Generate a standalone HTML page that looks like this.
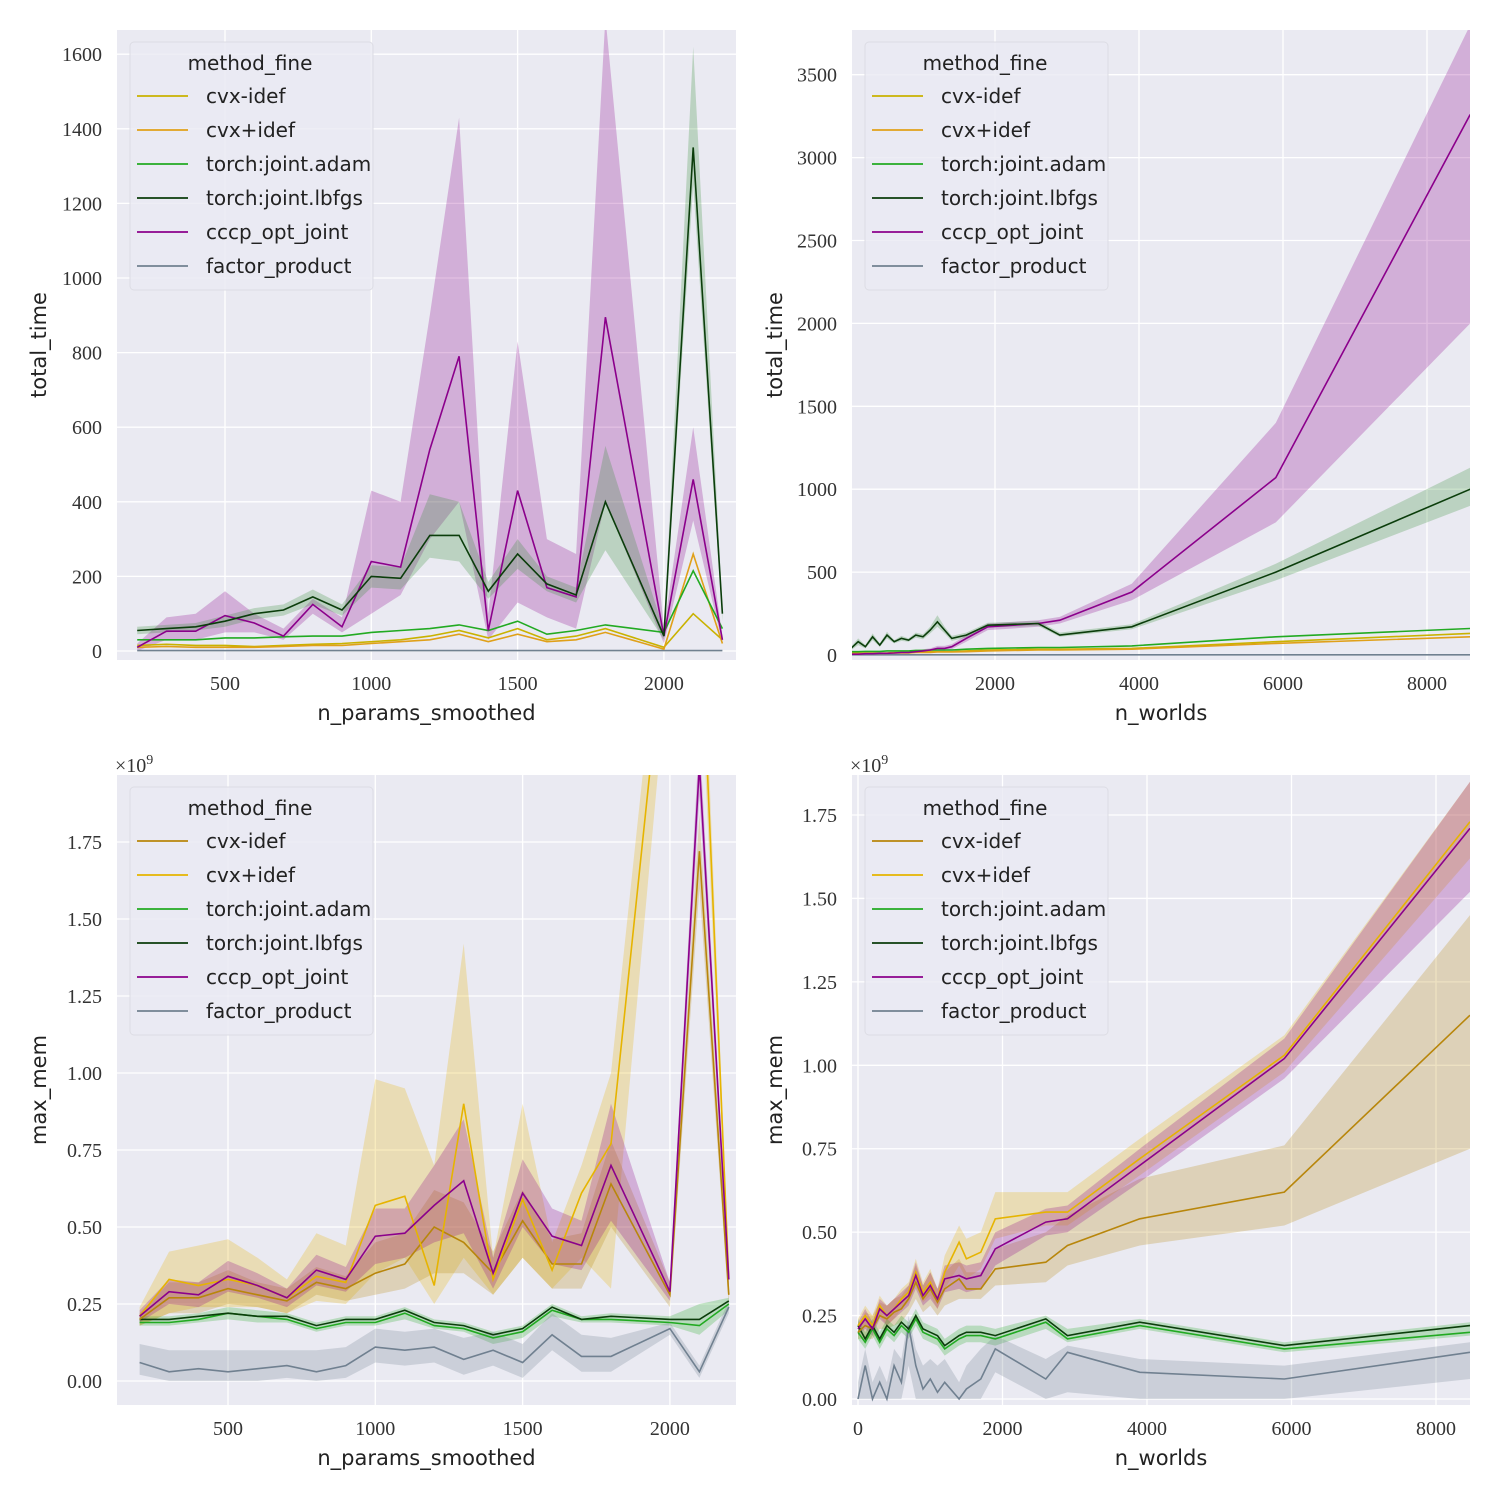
<!DOCTYPE html>
<html><head><meta charset="utf-8">
<style>
body{margin:0;background:#fff;}
svg{display:block;}
.tick{font-family:"Liberation Serif",serif;font-size:20px;fill:#333;}
.lab{font-family:"DejaVu Sans","Liberation Sans",sans-serif;font-size:21px;fill:#222;}
.leg{font-family:"DejaVu Sans","Liberation Sans",sans-serif;font-size:20px;fill:#222;}
</style></head><body>
<svg id="fig" width="1500" height="1500" viewBox="0 0 1500 1500"></svg>
<script>
// ---------- Data ----------
const seriesNames = ["cvx-idef","cvx+idef","torch:joint.adam","torch:joint.lbfgs","cccp_opt_joint","factor_product"];
// Panel A: total_time vs n_params_smoothed
const xA = [200,300,400,500,600,700,800,900,1000,1100,1200,1300,1400,1500,1600,1700,1800,2000,2100,2200];
const A_cvxm = [15,18,15,15,12,15,18,20,25,30,40,55,35,60,30,40,60,10,100,30];
const A_cvxp = [10,12,10,10,10,12,15,15,20,25,30,45,25,45,25,30,50,5,260,20];
const A_adam = [30,30,30,35,35,38,40,40,50,55,60,70,55,80,45,55,70,50,215,60];
const A_lbfgs = [55,60,65,80,100,110,145,110,200,195,310,310,160,260,180,150,400,40,1350,100];
const A_lbfgs_lo = [45,50,55,65,85,95,125,95,170,165,250,240,140,220,160,130,270,30,1250,80];
const A_lbfgs_hi = [65,70,75,95,115,125,165,125,230,225,420,400,185,300,200,170,550,55,1620,120];
const A_cccp = [10,53,53,95,75,40,125,65,240,225,540,790,55,430,170,145,895,40,460,30];
const A_cccp_lo = [0,30,30,50,50,30,100,50,100,150,300,400,30,130,90,60,400,20,350,20];
const A_cccp_hi = [20,90,100,160,100,60,140,90,430,400,900,1430,100,830,300,260,1700,60,600,40];
const A_fact = [1,1,1,1,1,1,1,1,1,1,1,1,1,1,1,1,1,1,1,1];
const A_yticks = [0,200,400,600,800,1000,1200,1400,1600];
const A_xticks = [500,1000,1500,2000];
// Panel B: total_time vs n_worlds
const xB = [0,100,200,300,400,500,600,700,800,900,1000,1100,1200,1300,1400,1600,1900,2600,2900,3900,5900,8600];
const B_cvxm = [10,10,12,12,12,12,15,15,15,18,18,20,20,20,20,25,30,35,35,40,80,130];
const B_cvxp = [8,8,10,10,10,10,12,12,12,15,15,15,18,18,18,20,25,30,30,35,70,110];
const B_adam = [20,20,22,22,22,25,25,25,25,28,28,30,30,30,30,35,40,45,45,55,110,160];
const B_lbfgs = [40,80,50,110,60,120,80,100,90,120,110,150,200,150,100,120,180,190,120,170,500,1000];
const B_lbfgs_lo = [30,60,40,90,50,100,70,85,80,105,95,130,170,130,85,105,165,175,110,155,450,900];
const B_lbfgs_hi = [50,100,60,130,70,140,90,115,100,135,125,170,240,170,115,135,195,205,135,185,550,1130];
const B_cccp = [5,5,8,8,10,10,12,15,15,20,25,30,40,40,50,100,170,190,210,380,1070,3260];
const B_cccp_lo = [2,2,4,4,5,5,6,8,8,12,15,20,25,25,35,80,150,170,190,330,800,2000];
const B_cccp_hi = [8,8,12,12,15,15,18,22,22,28,35,40,55,55,65,120,190,210,230,430,1400,3800];
const B_fact = [1,1,1,1,1,1,1,1,1,1,1,1,1,1,1,1,1,1,1,1,1,1];
const B_yticks = [0,500,1000,1500,2000,2500,3000,3500];
const B_xticks = [2000,4000,6000,8000];
// Panel C: max_mem vs n_params_smoothed (x1e9)
const xC = [200,300,400,500,600,700,800,900,1000,1100,1200,1300,1400,1500,1600,1700,1800,2000,2100,2200];
const C_cvxm = [0.20,0.27,0.27,0.30,0.28,0.26,0.32,0.30,0.35,0.38,0.50,0.45,0.35,0.52,0.38,0.38,0.64,0.28,1.72,0.28];
const C_cvxm_lo = [0.18,0.22,0.22,0.25,0.24,0.22,0.28,0.26,0.28,0.30,0.35,0.35,0.28,0.40,0.30,0.30,0.50,0.24,1.60,0.24];
const C_cvxm_hi = [0.22,0.32,0.32,0.36,0.32,0.30,0.37,0.34,0.45,0.48,0.62,0.58,0.42,0.62,0.46,0.48,0.78,0.32,1.84,0.32];
const C_cvxp = [0.21,0.33,0.31,0.33,0.31,0.27,0.34,0.32,0.57,0.60,0.31,0.90,0.33,0.59,0.36,0.61,0.77,2.6,2.6,0.33];
const C_cvxp_lo = [0.18,0.22,0.24,0.24,0.24,0.22,0.26,0.25,0.35,0.40,0.25,0.40,0.28,0.40,0.30,0.40,0.30,2.4,2.4,0.30];
const C_cvxp_hi = [0.24,0.42,0.44,0.46,0.40,0.33,0.48,0.44,0.98,0.95,0.70,1.42,0.40,0.90,0.45,0.70,1.0,2.8,2.8,0.36];
const C_adam = [0.19,0.19,0.20,0.22,0.21,0.20,0.17,0.19,0.19,0.22,0.18,0.17,0.14,0.16,0.23,0.20,0.20,0.19,0.18,0.25];
const C_lbfgs = [0.20,0.20,0.21,0.22,0.21,0.21,0.18,0.20,0.20,0.23,0.19,0.18,0.15,0.17,0.24,0.20,0.21,0.20,0.20,0.26];
const C_green_lo = [0.18,0.18,0.19,0.20,0.19,0.19,0.16,0.18,0.18,0.20,0.17,0.16,0.12,0.14,0.21,0.19,0.19,0.18,0.15,0.23];
const C_green_hi = [0.21,0.21,0.22,0.24,0.23,0.22,0.19,0.21,0.21,0.24,0.20,0.19,0.16,0.18,0.25,0.21,0.22,0.21,0.25,0.27];
const C_cccp = [0.21,0.29,0.28,0.34,0.31,0.27,0.36,0.33,0.47,0.48,0.57,0.65,0.35,0.61,0.47,0.44,0.70,0.29,2.0,0.33];
const C_cccp_lo = [0.19,0.25,0.24,0.29,0.27,0.24,0.31,0.29,0.38,0.40,0.45,0.48,0.30,0.50,0.38,0.36,0.52,0.26,1.9,0.30];
const C_cccp_hi = [0.23,0.33,0.32,0.39,0.35,0.30,0.41,0.37,0.56,0.56,0.70,0.85,0.40,0.72,0.56,0.52,0.90,0.32,2.1,0.36];
const C_fact = [0.06,0.03,0.04,0.03,0.04,0.05,0.03,0.05,0.11,0.10,0.11,0.07,0.10,0.06,0.15,0.08,0.08,0.17,0.03,0.24];
const C_fact_lo = [0.02,0.0,0.0,0.0,0.0,0.01,0.0,0.01,0.06,0.05,0.06,0.02,0.05,0.01,0.10,0.03,0.03,0.15,0.01,0.22];
const C_fact_hi = [0.12,0.10,0.10,0.10,0.10,0.10,0.10,0.11,0.17,0.16,0.17,0.14,0.16,0.12,0.22,0.15,0.14,0.19,0.05,0.26];
const C_yticks = [0,0.25,0.5,0.75,1.0,1.25,1.5,1.75];
const C_xticks = [500,1000,1500,2000];
// Panel D: max_mem vs n_worlds (x1e9)
const xD = [0,100,200,300,400,500,600,700,800,900,1000,1100,1200,1400,1500,1700,1900,2600,2900,3900,5900,8471];
const D_cvxm = [0.20,0.22,0.21,0.25,0.24,0.26,0.27,0.30,0.35,0.30,0.33,0.29,0.33,0.36,0.33,0.33,0.39,0.41,0.46,0.54,0.62,1.15];
const D_cvxm_lo = [0.18,0.18,0.18,0.21,0.21,0.22,0.23,0.26,0.30,0.26,0.28,0.25,0.28,0.30,0.30,0.30,0.34,0.35,0.40,0.46,0.52,0.75];
const D_cvxm_hi = [0.22,0.26,0.25,0.29,0.28,0.30,0.31,0.34,0.40,0.34,0.38,0.33,0.38,0.42,0.38,0.38,0.45,0.50,0.55,0.66,0.76,1.45];
const D_cvxp = [0.22,0.25,0.22,0.28,0.25,0.27,0.30,0.32,0.38,0.32,0.35,0.30,0.38,0.47,0.42,0.44,0.54,0.56,0.56,0.72,1.03,1.73];
const D_cvxp_lo = [0.20,0.22,0.20,0.25,0.22,0.24,0.27,0.29,0.34,0.29,0.31,0.27,0.33,0.40,0.36,0.39,0.48,0.52,0.52,0.67,0.98,1.62];
const D_cvxp_hi = [0.24,0.28,0.25,0.31,0.28,0.30,0.33,0.35,0.42,0.35,0.39,0.33,0.43,0.52,0.48,0.50,0.62,0.62,0.62,0.78,1.09,1.85];
const D_adam = [0.20,0.17,0.21,0.17,0.21,0.19,0.22,0.20,0.24,0.20,0.19,0.18,0.15,0.18,0.19,0.19,0.18,0.23,0.18,0.22,0.15,0.20];
const D_lbfgs = [0.22,0.18,0.22,0.18,0.22,0.20,0.23,0.21,0.25,0.21,0.20,0.19,0.16,0.19,0.20,0.20,0.19,0.24,0.19,0.23,0.16,0.22];
const D_green_lo = [0.18,0.15,0.19,0.15,0.19,0.17,0.20,0.18,0.22,0.18,0.17,0.16,0.13,0.16,0.17,0.17,0.16,0.21,0.17,0.21,0.14,0.19];
const D_green_hi = [0.24,0.20,0.24,0.20,0.24,0.22,0.25,0.23,0.27,0.23,0.22,0.21,0.18,0.21,0.22,0.22,0.21,0.25,0.21,0.24,0.17,0.23];
const D_cccp = [0.21,0.24,0.21,0.27,0.25,0.27,0.29,0.31,0.37,0.31,0.34,0.30,0.36,0.37,0.36,0.37,0.45,0.53,0.54,0.70,1.02,1.71];
const D_cccp_lo = [0.19,0.21,0.19,0.24,0.22,0.24,0.26,0.28,0.33,0.28,0.30,0.27,0.32,0.33,0.32,0.33,0.40,0.49,0.50,0.65,0.96,1.52];
const D_cccp_hi = [0.23,0.27,0.23,0.30,0.28,0.30,0.32,0.34,0.41,0.34,0.38,0.33,0.40,0.41,0.40,0.41,0.50,0.57,0.58,0.75,1.08,1.85];
const D_fact = [0.0,0.10,0.0,0.05,0.0,0.10,0.05,0.22,0.10,0.03,0.06,0.02,0.05,0.0,0.03,0.06,0.15,0.06,0.14,0.08,0.06,0.14];
const D_fact_lo = [0.0,0.0,0.0,0.0,0.0,0.0,0.0,0.10,0.0,0.0,0.0,0.0,0.0,0.0,0.0,0.0,0.08,0.0,0.02,0.0,0.0,0.06];
const D_fact_hi = [0.05,0.15,0.05,0.10,0.05,0.15,0.12,0.25,0.15,0.10,0.12,0.10,0.12,0.05,0.10,0.15,0.19,0.12,0.16,0.12,0.10,0.17];
const D_yticks = [0,0.25,0.5,0.75,1.0,1.25,1.5,1.75];
const D_xticks = [0,2000,4000,6000,8000];

// ---------- Drawing ----------
const NS="http://www.w3.org/2000/svg";
const fig=document.getElementById('fig');
function mk(tag,attrs,parent){const e=document.createElementNS(NS,tag);for(const k in attrs)e.setAttribute(k,attrs[k]);(parent||fig).appendChild(e);return e;}

function panel(cfg){
  const g=mk('g',{});
  
  
  const {L,T,R,B}=cfg;
  const sx=v=>cfg.px0+(v-cfg.x0)*cfg.pxPerX;
  const sy=v=>cfg.py0-(v-cfg.y0)*cfg.pyPerY;
  const clipId='clip'+cfg.name;
  const defs=mk('defs',{},g);const cp=mk('clipPath',{id:clipId},defs);mk('rect',{x:L,y:T,width:R-L,height:B-T},cp);
  const bg=mk('rect',{x:L,y:T,width:R-L,height:B-T,fill:'#eaeaf2'},g);
  
  
  cfg.xticks.forEach(t=>{const x=sx(t);mk('line',{x1:x,x2:x,y1:T,y2:B,stroke:'#fff','stroke-width':1.3},g);
    const tx=mk('text',{x:x,y:B+30,'text-anchor':'middle',class:'tick'},g);tx.textContent=t;
    
    });
  cfg.yticks.forEach(t=>{const y=sy(t);mk('line',{x1:L,x2:R,y1:y,y2:y,stroke:'#fff','stroke-width':1.3},g);
    const tx=mk('text',{x:L-15,y:y+7,'text-anchor':'end',class:'tick'},g);tx.textContent=cfg.fmt(t);
    
    });
  const pg=mk('g',{'clip-path':'url(#'+clipId+')'},g);
  cfg.bands.forEach(b=>{
    let d='';b.lo.forEach((v,i)=>{d+=(i?'L':'M')+sx(cfg.xs[i]).toFixed(1)+','+sy(v).toFixed(1);});
    for(let i=b.hi.length-1;i>=0;i--)d+='L'+sx(cfg.xs[i]).toFixed(1)+','+sy(b.hi[i]).toFixed(1);
    const p=mk('path',{d:d+'Z',fill:b.color,'fill-opacity':0.25,stroke:'none'},pg);
    
    
  });
  cfg.series.forEach(s=>{
    const pts=s.v.map((v,i)=>sx(cfg.xs[i]).toFixed(1)+','+sy(v).toFixed(1)).join(' ');
    const pl=mk('polyline',{points:pts,fill:'none',stroke:s.color,'stroke-width':1.6},pg);
    
    
  });
  const xl=mk('text',{x:(L+R)/2,y:B+60,'text-anchor':'middle',class:'lab'},g);xl.textContent=cfg.xlabel;
  
  
  const yl=mk('text',{x:0,y:0,'text-anchor':'middle',class:'lab',transform:`translate(${cfg.ylx},${(T+B)/2}) rotate(-90)`},g);yl.textContent=cfg.ylabel;
  
  
  if(cfg.sci){const t=mk('text',{x:L-2,y:T-3,class:'tick','text-anchor':'start'},g);
    
    
    t.innerHTML='×10<tspan dy="-8" font-size="14">9</tspan>';}
  // legend
  const lg=mk('g',{},g);
  
  
  mk('rect',{x:L+13,y:T+12,width:243,height:248,rx:4,fill:'#eaeaf2','fill-opacity':0.8,stroke:'#dcdce4'},lg);
  const lt=mk('text',{x:L+133,y:T+40,'text-anchor':'middle',class:'leg'},lg);lt.textContent='method_fine';
  cfg.legendColors.forEach((c,i)=>{const y=T+66+i*34;
    const le=mk('g',{},lg);
    
    
    mk('line',{x1:L+20,x2:L+71,y1:y,y2:y,stroke:c,'stroke-width':1.8},le);
    const t=mk('text',{x:L+89,y:y+7,class:'leg'},le);t.textContent=seriesNames[i];});
}
const c={cvxm:'#c9b200',cvxp:'#e0a019',adam:'#22aa22',lbfgs:'#0b3d0b',cccp:'#8b008b',fact:'#708090'};
const cb={cvxm:'#b8860b',cvxp:'#e6b400'};
const bandGreen='#2e8b2e';
panel({name:'panel-total-time-params',L:117,T:30,R:736,B:660,px0:225,x0:500,pxPerX:146.3/500,py0:651,y0:0,pyPerY:74.6/200,
  xs:xA,xticks:A_xticks,yticks:A_yticks,fmt:t=>t,xlabel:'n_params_smoothed',ylabel:'total_time',ylx:46,
  legendColors:[c.cvxm,c.cvxp,c.adam,c.lbfgs,c.cccp,c.fact],
  bands:[{lo:A_cccp_lo,hi:A_cccp_hi,color:c.cccp},{lo:A_lbfgs_lo,hi:A_lbfgs_hi,color:bandGreen}],
  series:[{v:A_fact,color:c.fact},{v:A_cvxm,color:c.cvxm},{v:A_cvxp,color:c.cvxp},{v:A_adam,color:c.adam},{v:A_cccp,color:c.cccp},{v:A_lbfgs,color:c.lbfgs}]});
panel({name:'panel-total-time-worlds',L:852,T:30,R:1470,B:660,px0:851,x0:0,pxPerX:144/2000,py0:655,y0:0,pyPerY:82.9/500,
  xs:xB,xticks:B_xticks,yticks:B_yticks,fmt:t=>t,xlabel:'n_worlds',ylabel:'total_time',ylx:782,
  legendColors:[c.cvxm,c.cvxp,c.adam,c.lbfgs,c.cccp,c.fact],
  bands:[{lo:B_cccp_lo,hi:B_cccp_hi,color:c.cccp},{lo:B_lbfgs_lo,hi:B_lbfgs_hi,color:bandGreen}],
  series:[{v:B_fact,color:c.fact},{v:B_cvxm,color:c.cvxm},{v:B_cvxp,color:c.cvxp},{v:B_adam,color:c.adam},{v:B_cccp,color:c.cccp},{v:B_lbfgs,color:c.lbfgs}]});
const f2=t=>t.toFixed(2);
panel({name:'panel-max-mem-params',L:117,T:775,R:736,B:1405,px0:228,x0:500,pxPerX:147.3/500,py0:1381,y0:0,pyPerY:308,
  xs:xC,xticks:C_xticks,yticks:C_yticks,fmt:f2,xlabel:'n_params_smoothed',ylabel:'max_mem',ylx:46,sci:true,
  legendColors:[cb.cvxm,cb.cvxp,c.adam,c.lbfgs,c.cccp,c.fact],
  bands:[{lo:C_cvxp_lo,hi:C_cvxp_hi,color:cb.cvxp},{lo:C_cvxm_lo,hi:C_cvxm_hi,color:cb.cvxm},{lo:C_cccp_lo,hi:C_cccp_hi,color:c.cccp},{lo:C_green_lo,hi:C_green_hi,color:c.adam},{lo:C_fact_lo,hi:C_fact_hi,color:c.fact}],
  series:[{v:C_fact,color:c.fact},{v:C_adam,color:c.adam},{v:C_lbfgs,color:c.lbfgs},{v:C_cvxm,color:cb.cvxm},{v:C_cvxp,color:cb.cvxp},{v:C_cccp,color:c.cccp}]});
panel({name:'panel-max-mem-worlds',L:852,T:775,R:1470,B:1405,px0:858,x0:0,pxPerX:144.5/2000,py0:1399,y0:0,pyPerY:333.7,
  xs:xD,xticks:D_xticks,yticks:D_yticks,fmt:f2,xlabel:'n_worlds',ylabel:'max_mem',ylx:782,sci:true,
  legendColors:[cb.cvxm,cb.cvxp,c.adam,c.lbfgs,c.cccp,c.fact],
  bands:[{lo:D_cvxm_lo,hi:D_cvxm_hi,color:cb.cvxm},{lo:D_cvxp_lo,hi:D_cvxp_hi,color:cb.cvxp},{lo:D_cccp_lo,hi:D_cccp_hi,color:c.cccp},{lo:D_green_lo,hi:D_green_hi,color:c.adam},{lo:D_fact_lo,hi:D_fact_hi,color:c.fact}],
  series:[{v:D_fact,color:c.fact},{v:D_adam,color:c.adam},{v:D_lbfgs,color:c.lbfgs},{v:D_cvxm,color:cb.cvxm},{v:D_cvxp,color:cb.cvxp},{v:D_cccp,color:c.cccp}]});
</script>
</body></html>
